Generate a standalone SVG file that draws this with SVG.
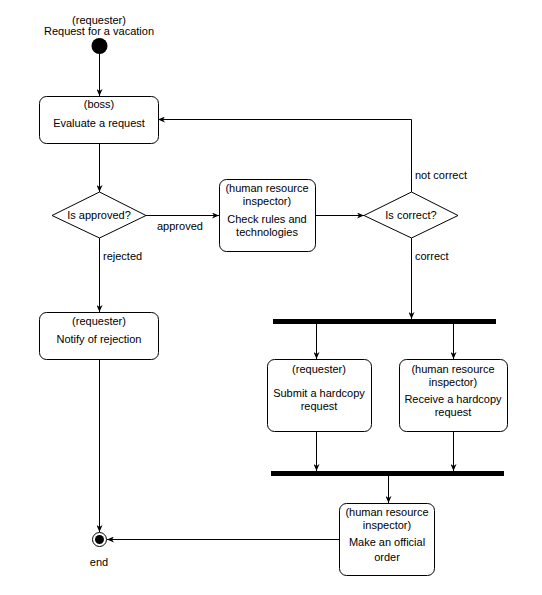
<svg xmlns="http://www.w3.org/2000/svg" width="542" height="595" viewBox="0 0 542 595">
<style>
text{font-family:"Liberation Sans",Arial,sans-serif;font-size:11px;fill:#000;text-anchor:middle}
.lbl{text-anchor:start}
.box{fill:#fff;stroke:#000;stroke-width:1}
.edge{fill:none;stroke:#000;stroke-width:1;marker-end:url(#arr)}
.bar{fill:#000}
</style>
<defs>
<marker id="arr" viewBox="0 0 7 6" refX="7" refY="3" markerWidth="7" markerHeight="6" markerUnits="userSpaceOnUse" orient="auto">
<path d="M0,0 L7,3 L0,6 L2,3 Z" fill="#000"/>
</marker>
</defs>
<rect width="542" height="595" fill="#fff"/>
<g id="connectors">
<path class="edge" d="M99.5,54 V96"/>
<path class="edge" d="M99.5,143 V192"/>
<path class="edge" d="M146,215.5 H219"/>
<path class="edge" d="M315,215.5 H364"/>
<path class="edge" d="M411.5,192 V119.5 H158"/>
<path class="edge" d="M411.5,238 V319"/>
<path class="edge" d="M99.5,238 V312"/>
<path class="edge" d="M99.5,359 V532"/>
<path class="edge" d="M316.5,324 V359"/>
<path class="edge" d="M453.5,324 V359"/>
<path class="edge" d="M316.5,431 V471"/>
<path class="edge" d="M453.5,431 V471"/>
<path class="edge" d="M388.5,476 V503"/>
<path class="edge" d="M339,539.5 H107"/>
<text class="lbl" x="157" y="230">approved</text>
<text class="lbl" x="415" y="179">not correct</text>
<text class="lbl" x="415" y="260">correct</text>
<text class="lbl" x="103" y="260">rejected</text>
</g>
<g id="start">
<circle cx="99.5" cy="46" r="8" fill="#000"/>
<text x="99" y="24">(requester)</text>
<text x="99" y="35">Request for a vacation</text>
</g>
<g id="evaluate">
<rect class="box" x="39.5" y="96.5" width="119" height="47" rx="7"/>
<text x="99" y="108">(boss)</text>
<text x="99" y="127">Evaluate a request</text>
</g>
<g id="is-approved">
<path class="box" d="M52,215.5 L99.5,192 L146,215.5 L99.5,238 Z"/>
<text x="99" y="219">Is approved?</text>
</g>
<g id="check-rules">
<rect class="box" x="219.5" y="179.5" width="96" height="72" rx="7"/>
<text x="267" y="192">(human resource</text>
<text x="267" y="205">inspector)</text>
<text x="267" y="223">Check rules and</text>
<text x="267" y="236">technologies</text>
</g>
<g id="is-correct">
<path class="box" d="M364,215.5 L411.5,192 L458,215.5 L411.5,238 Z"/>
<text x="411" y="219">Is correct?</text>
</g>
<g id="notify">
<rect class="box" x="39.5" y="312.5" width="119" height="47" rx="7"/>
<text x="99" y="325">(requester)</text>
<text x="99" y="343">Notify of rejection</text>
</g>
<g id="fork">
<rect class="bar" x="273" y="319" width="223" height="5"/>
</g>
<g id="submit">
<rect class="box" x="267.5" y="359.5" width="104" height="72" rx="7"/>
<text x="319" y="373">(requester)</text>
<text x="319" y="397">Submit a hardcopy</text>
<text x="319" y="410">request</text>
</g>
<g id="receive">
<rect class="box" x="399.5" y="359.5" width="108" height="72" rx="7"/>
<text x="453" y="373">(human resource</text>
<text x="453" y="386">inspector)</text>
<text x="453" y="403">Receive a hardcopy</text>
<text x="453" y="416">request</text>
</g>
<g id="join">
<rect class="bar" x="271" y="471" width="233" height="5"/>
</g>
<g id="official-order">
<rect class="box" x="339.5" y="503.5" width="95" height="72" rx="7"/>
<text x="387" y="516">(human resource</text>
<text x="387" y="529">inspector)</text>
<text x="387" y="546">Make an official</text>
<text x="387" y="561">order</text>
</g>
<g id="end">
<circle cx="99.5" cy="539.5" r="7" fill="#fff" stroke="#000" stroke-width="1"/>
<circle cx="99.5" cy="539.5" r="4.5" fill="#000"/>
<text x="99" y="566">end</text>
</g>
</svg>
